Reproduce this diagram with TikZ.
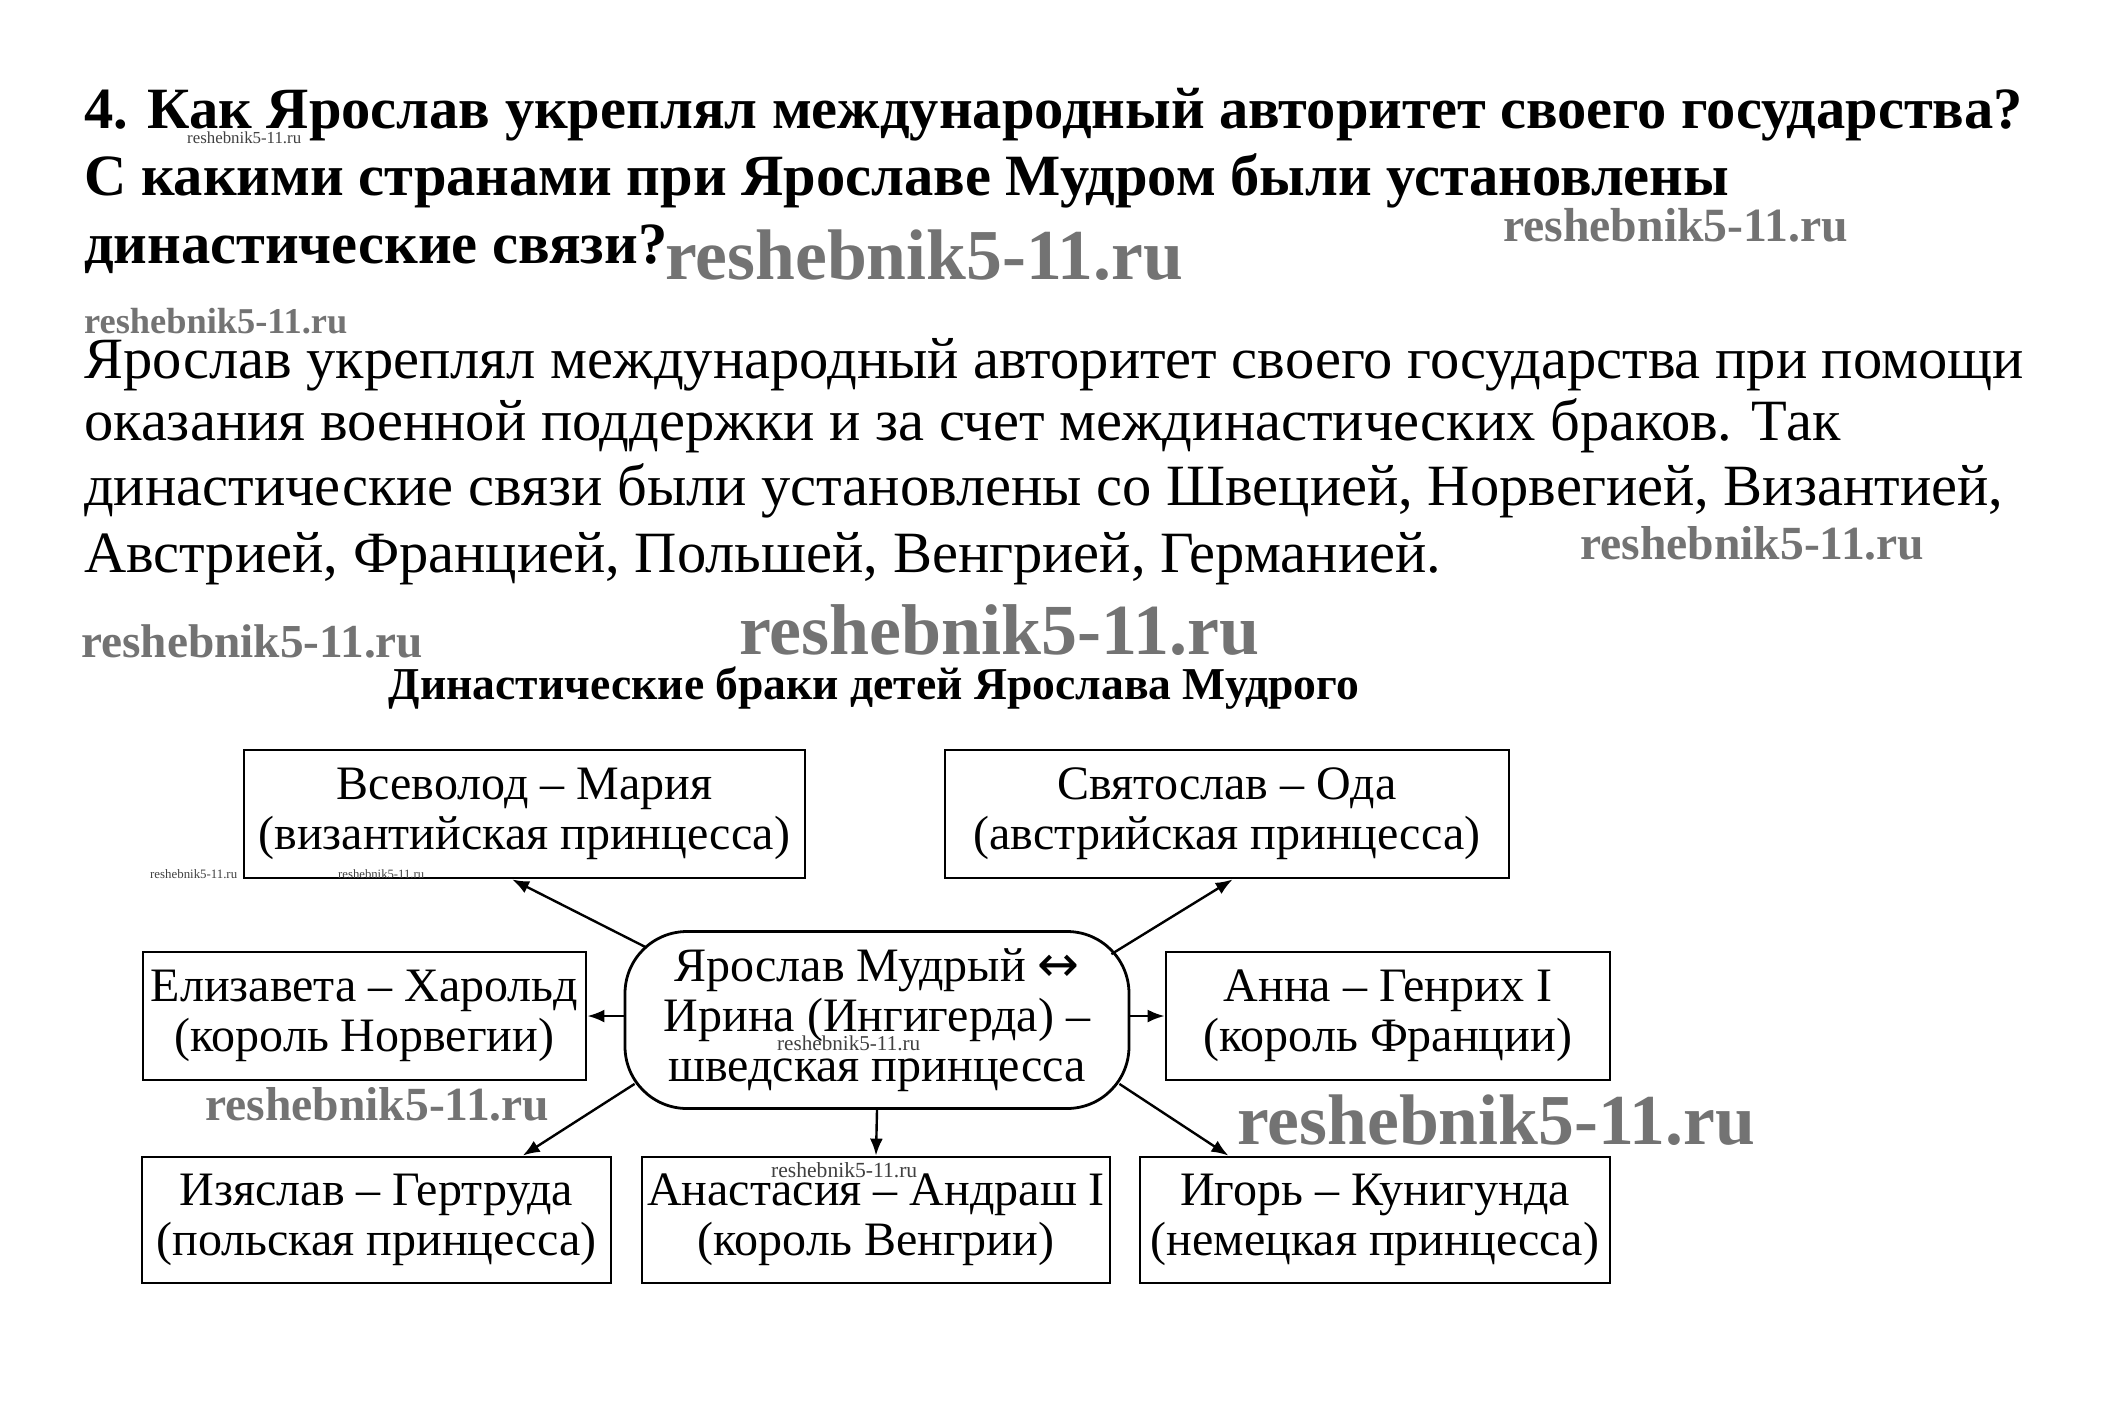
\documentclass[tikz,border=0pt]{standalone}
\usepackage{fontspec}
\setmainfont{Liberation Serif}
\newfontfamily\arrowfont{DejaVu Sans}
\usetikzlibrary{arrows.meta,calc}
\newcommand{\wmtext}{reshebnik5-11.ru}
\begin{document}
\begin{tikzpicture}[x=1pt,y=-1pt,
  ttl/.style={anchor=base west, inner sep=0pt, font=\fontsize{58.5}{67}\selectfont\bfseries},
  para/.style={anchor=base west, inner sep=0pt, font=\fontsize{58.5}{65}\selectfont},
  famb/.style={draw, line width=2.8pt, inner sep=0pt, align=center, font=\fontsize{48}{50}\selectfont},
  wmbig/.style={anchor=west, inner sep=0pt, text=black!55, font=\bfseries},
  wmsmall/.style={anchor=west, inner sep=0pt, text=black!75},
  arr/.style={-{Latex[length=17pt,width=13pt]}, line width=2.4pt},
]
\useasboundingbox (0,0) rectangle (2127,1409);
\fill[white] (0,0) rectangle (2127,1409);

% question
\node[ttl] (q1) at (84,128) {4. Как Ярослав укреплял международный авторитет своего государства?};
\node[ttl] (q2) at (84,195) {С какими странами при Ярославе Мудром были установлены};
\node[ttl] (q3) at (84,263) {династические связи?};

% answer
\node[para] (p1) at (84,378) {Ярослав укреплял международный авторитет своего государства при помощи};
\node[para] (p2) at (84,440) {оказания военной поддержки и за счет междинастических браков. Так};
\node[para] (p3) at (84,505) {династические связи были установлены со Швецией, Норвегией, Византией,};
\node[para] (p4) at (84,572) {Австрией, Францией, Польшей, Венгрией, Германией.};

% diagram title
\node[anchor=base, inner sep=0pt] (dt) at (874,699) {\resizebox{970pt}{!}{\bfseries Династические браки детей Ярослава Мудрого}};

% boxes
\node[famb, minimum width=561pt, minimum height=128pt] (vs) at (524.5,814) {Всеволод – Мария\\(византийская принцесса)};
\node[famb, minimum width=564pt, minimum height=128pt] (sv) at (1227,814) {Святослав – Ода\\(австрийская принцесса)};
\node[famb, minimum width=443pt, minimum height=128pt] (el) at (364.5,1016) {Елизавета – Харольд\\(король Норвегии)};
\node[famb, minimum width=444pt, minimum height=128pt] (an) at (1388,1016) {Анна – Генрих I\\(король Франции)};
\node[famb, minimum width=469pt, minimum height=126pt] (iz) at (376.5,1220) {Изяслав – Гертруда\\(польская принцесса)};
\node[famb, minimum width=468pt, minimum height=126pt] (as) at (876,1220) {Анастасия – Андраш I\\(король Венгрии)};
\node[famb, minimum width=470pt, minimum height=126pt] (ig) at (1375,1220) {Игорь – Кунигунда\\(немецкая принцесса)};
\node[famb, rounded corners=62pt, minimum width=504pt, minimum height=177pt] (c) at (877,1020) {Ярослав Мудрый {\arrowfont\fontsize{50}{50}\selectfont ↔}\\Ирина (Ингигерда) –\\шведская принцесса};

% connector start points on the rounded centre shape
\coordinate (cnw) at ($(c.north west)+(22,17)$);
\coordinate (cne) at ($(c.north east)+(-19,24)$);
\coordinate (csw) at ($(c.south west)+(11,-26)$);
\coordinate (cse) at ($(c.south east)+(-11,-26)$);

\draw[arr] (cnw) -- ($(vs.south west)!0.478!(vs.south east)$);
\draw[arr] (cne) -- ($(sv.south west)!0.51!(sv.south east)$);
\draw[arr] (c.west |- el.east) -- (el.east);
\draw[arr] (c.east |- an.west) -- (an.west);
\draw[arr] (c.south) -- (as.north);
\draw[arr] (csw) -- ($(iz.north west)!0.81!(iz.north east)$);
\draw[arr] (cse) -- ($(ig.north west)!0.19!(ig.north east)$);

% watermarks
\node[wmsmall] (w1) at (187,138) {\resizebox{114pt}{!}{\wmtext}};
\node[wmbig] (w2) at (1503,225) {\resizebox{345pt}{!}{\wmtext}};
\node[wmbig] (w3) at (665,255) {\resizebox{518pt}{!}{\wmtext}};
\node[wmbig] (w4) at (84,321) {\resizebox{263pt}{!}{\wmtext}};
\node[wmbig] (w5) at (1580,543) {\resizebox{344pt}{!}{\wmtext}};
\node[wmbig] (w6) at (81,641) {\resizebox{342pt}{!}{\wmtext}};
\node[wmbig] (w7) at (739,630) {\resizebox{520pt}{!}{\wmtext}};
\node[wmsmall] (w8) at (150,874) {\resizebox{87pt}{!}{\wmtext}};
\node[wmsmall] (w9) at (338,874) {\resizebox{86pt}{!}{\wmtext}};
\node[wmsmall] (w10) at (777,1043) {\resizebox{143pt}{!}{\wmtext}};
\node[wmsmall] (w11) at (771,1170) {\resizebox{146pt}{!}{\wmtext}};
\node[wmbig] (w12) at (205,1104) {\resizebox{344pt}{!}{\wmtext}};
\node[wmbig] (w13) at (1237,1120) {\resizebox{518pt}{!}{\wmtext}};
\end{tikzpicture}
\end{document}
